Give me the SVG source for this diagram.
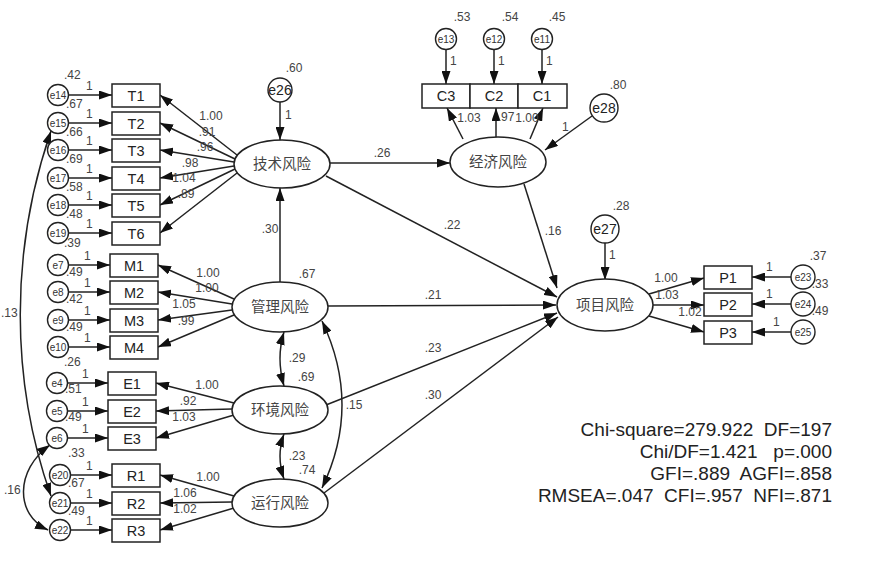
<svg xmlns="http://www.w3.org/2000/svg" width="896" height="564" viewBox="0 0 896 564">
<style>
.bx{fill:#fff;stroke:#222;stroke-width:1.5}
.ci{fill:#fff;stroke:#222;stroke-width:1.4}
.el{fill:#fff;stroke:#222;stroke-width:1.5}
.ln{fill:none;stroke:#222;stroke-width:1.5;marker-end:url(#ah)}
.cv{fill:none;stroke:#222;stroke-width:1.5;marker-end:url(#ah);marker-start:url(#ah)}
.bt{font-family:"Liberation Sans",Arial,sans-serif;font-size:14.5px;fill:#222;text-anchor:middle}
.et{font-family:"Liberation Sans",Arial,sans-serif;font-size:10px;fill:#333;text-anchor:middle}
.eb{font-family:"Liberation Sans",Arial,sans-serif;font-size:14px;fill:#222;text-anchor:middle}
.lt{font-family:"Noto Sans CJK SC","Noto Sans",sans-serif;font-size:14.5px;fill:#444;text-anchor:middle}
.n{font-family:"Liberation Sans",Arial,sans-serif;font-size:12px;fill:#444}
.nm{font-family:"Liberation Sans",Arial,sans-serif;font-size:12px;fill:#444;text-anchor:middle}
.fs{font-family:"Liberation Sans",Arial,sans-serif;font-size:19px;fill:#222;text-anchor:end;white-space:pre}
</style>
<defs>
<marker id="ah" viewBox="0 0 13 9" refX="13" refY="4.5" markerWidth="13" markerHeight="9" markerUnits="userSpaceOnUse" orient="auto-start-reverse"><path d="M0,0 L13,4.5 L0,9 z" fill="#111"/></marker>
</defs>
<rect width="896" height="564" fill="#fff"/>

<g id="connectors">
<path class="ln" d="M68.5,95 H112"/>
<path class="ln" d="M68.5,123 H112"/>
<path class="ln" d="M68.5,150 H112"/>
<path class="ln" d="M68.5,178 H112"/>
<path class="ln" d="M68.5,205 H112"/>
<path class="ln" d="M68.5,233 H112"/>
<path class="ln" d="M68.5,265 H110"/>
<path class="ln" d="M68.5,292 H110"/>
<path class="ln" d="M68.5,320 H110"/>
<path class="ln" d="M68.5,347 H110"/>
<path class="ln" d="M67.5,383 H108"/>
<path class="ln" d="M67.5,411 H108"/>
<path class="ln" d="M67.5,438 H108"/>
<path class="ln" d="M70.5,475 H112"/>
<path class="ln" d="M70.5,503 H112"/>
<path class="ln" d="M70.5,530 H112"/>
<path class="ln" d="M237,155 L160,95"/>
<path class="ln" d="M235,159 L160,123"/>
<path class="ln" d="M234,162 L160,150"/>
<path class="ln" d="M234,166 L160,178"/>
<path class="ln" d="M235,169 L160,205"/>
<path class="ln" d="M237,173 L160,233"/>
<path class="ln" d="M234,299 L158,265"/>
<path class="ln" d="M232,304 L158,292"/>
<path class="ln" d="M232,310 L158,320"/>
<path class="ln" d="M234,315 L158,347"/>
<path class="ln" d="M234,403 L156,383"/>
<path class="ln" d="M232,409 L156,411"/>
<path class="ln" d="M234,415 L156,438"/>
<path class="ln" d="M234,496 L160,475"/>
<path class="ln" d="M232,502 L160,503"/>
<path class="ln" d="M234,508 L160,530"/>
<path class="ln" d="M280,102 V140"/>
<path class="ln" d="M280,282 V188"/>
<path class="ln" d="M330,163 H450"/>
<path class="ln" d="M326,176 L557,297"/>
<path class="ln" d="M328,306 L556,305"/>
<path class="ln" d="M326,405 L557,313"/>
<path class="ln" d="M324,493 L558,317"/>
<path class="ln" d="M524,184 L557,288"/>
<path class="ln" d="M592,116 L545,150"/>
<path class="ln" d="M463,139 L447,108"/>
<path class="ln" d="M496,137 V108"/>
<path class="ln" d="M530,139 L543,108"/>
<path class="ln" d="M446,50 V84"/>
<path class="ln" d="M494,50 V84"/>
<path class="ln" d="M542,50 V84"/>
<path class="ln" d="M605,243 V280"/>
<path class="ln" d="M649,294 L704,278"/>
<path class="ln" d="M653,305 H704"/>
<path class="ln" d="M649,316 L704,332"/>
<path class="ln" d="M791,277 H752"/>
<path class="ln" d="M791,304 H752"/>
<path class="ln" d="M791,332 H752"/>
<path class="cv" d="M51,131 C10,250 10,380 51,496"/>
<path class="cv" d="M50,445 C15,470 15,515 48,530"/>
<path class="cv" d="M284,332 Q276,358 284,386"/>
<path class="cv" d="M284,434 Q276,456 284,479"/>
<path class="cv" d="M322,321 Q362,405 322,488"/>
</g>

<g id="e14"><circle class="ci" cx="58" cy="95" r="10.5"/><text class="et" x="58" y="98.5">e14</text></g>
<g id="e15"><circle class="ci" cx="58" cy="123" r="10.5"/><text class="et" x="58" y="126.5">e15</text></g>
<g id="e16"><circle class="ci" cx="58" cy="150" r="10.5"/><text class="et" x="58" y="153.5">e16</text></g>
<g id="e17"><circle class="ci" cx="58" cy="178" r="10.5"/><text class="et" x="58" y="181.5">e17</text></g>
<g id="e18"><circle class="ci" cx="58" cy="205" r="10.5"/><text class="et" x="58" y="208.5">e18</text></g>
<g id="e19"><circle class="ci" cx="58" cy="233" r="10.5"/><text class="et" x="58" y="236.5">e19</text></g>
<g id="e7"><circle class="ci" cx="58" cy="265" r="10.5"/><text class="et" x="58" y="268.5">e7</text></g>
<g id="e8"><circle class="ci" cx="58" cy="292" r="10.5"/><text class="et" x="58" y="295.5">e8</text></g>
<g id="e9"><circle class="ci" cx="58" cy="320" r="10.5"/><text class="et" x="58" y="323.5">e9</text></g>
<g id="e10"><circle class="ci" cx="58" cy="347" r="10.5"/><text class="et" x="58" y="350.5">e10</text></g>
<g id="e4"><circle class="ci" cx="57" cy="383" r="10.5"/><text class="et" x="57" y="386.5">e4</text></g>
<g id="e5"><circle class="ci" cx="57" cy="411" r="10.5"/><text class="et" x="57" y="414.5">e5</text></g>
<g id="e6"><circle class="ci" cx="57" cy="438" r="10.5"/><text class="et" x="57" y="441.5">e6</text></g>
<g id="e20"><circle class="ci" cx="60" cy="475" r="10.5"/><text class="et" x="60" y="478.5">e20</text></g>
<g id="e21"><circle class="ci" cx="60" cy="503" r="10.5"/><text class="et" x="60" y="506.5">e21</text></g>
<g id="e22"><circle class="ci" cx="60" cy="530" r="10.5"/><text class="et" x="60" y="533.5">e22</text></g>

<g id="T1"><rect class="bx" x="112" y="84" width="48" height="23"/><text class="bt" x="136" y="100.5">T1</text></g>
<g id="T2"><rect class="bx" x="112" y="112" width="48" height="23"/><text class="bt" x="136" y="128.5">T2</text></g>
<g id="T3"><rect class="bx" x="112" y="139" width="48" height="23"/><text class="bt" x="136" y="155.5">T3</text></g>
<g id="T4"><rect class="bx" x="112" y="167" width="48" height="23"/><text class="bt" x="136" y="183.5">T4</text></g>
<g id="T5"><rect class="bx" x="112" y="194" width="48" height="23"/><text class="bt" x="136" y="210.5">T5</text></g>
<g id="T6"><rect class="bx" x="112" y="222" width="48" height="23"/><text class="bt" x="136" y="238.5">T6</text></g>
<g id="M1"><rect class="bx" x="110" y="254" width="48" height="23"/><text class="bt" x="134" y="270.5">M1</text></g>
<g id="M2"><rect class="bx" x="110" y="281" width="48" height="23"/><text class="bt" x="134" y="297.5">M2</text></g>
<g id="M3"><rect class="bx" x="110" y="309" width="48" height="23"/><text class="bt" x="134" y="325.5">M3</text></g>
<g id="M4"><rect class="bx" x="110" y="336" width="48" height="23"/><text class="bt" x="134" y="352.5">M4</text></g>
<g id="E1"><rect class="bx" x="108" y="372" width="48" height="23"/><text class="bt" x="132" y="388.5">E1</text></g>
<g id="E2"><rect class="bx" x="108" y="400" width="48" height="23"/><text class="bt" x="132" y="416.5">E2</text></g>
<g id="E3"><rect class="bx" x="108" y="427" width="48" height="23"/><text class="bt" x="132" y="443.5">E3</text></g>
<g id="R1"><rect class="bx" x="112" y="464" width="48" height="23"/><text class="bt" x="136" y="480.5">R1</text></g>
<g id="R2"><rect class="bx" x="112" y="492" width="48" height="23"/><text class="bt" x="136" y="508.5">R2</text></g>
<g id="R3"><rect class="bx" x="112" y="519" width="48" height="23"/><text class="bt" x="136" y="535.5">R3</text></g>

<g id="tech"><ellipse class="el" cx="282" cy="164" rx="48" ry="24"/><text class="lt" x="282" y="169">技术风险</text></g>
<g id="mgmt"><ellipse class="el" cx="280" cy="307" rx="48" ry="25"/><text class="lt" x="280" y="312">管理风险</text></g>
<g id="env"><ellipse class="el" cx="280" cy="410" rx="48" ry="24"/><text class="lt" x="280" y="415">环境风险</text></g>
<g id="ops"><ellipse class="el" cx="280" cy="503" rx="48" ry="24"/><text class="lt" x="280" y="508">运行风险</text></g>
<g id="econ"><ellipse class="el" cx="498" cy="162" rx="48" ry="25"/><text class="lt" x="498" y="167">经济风险</text></g>
<g id="proj"><ellipse class="el" cx="605" cy="305" rx="48" ry="26"/><text class="lt" x="605" y="310">项目风险</text></g>

<g id="e26"><circle class="ci" cx="280" cy="90" r="12"/><text class="eb" x="280" y="95">e26</text></g>
<g id="e28"><circle class="ci" cx="604" cy="108" r="14"/><text class="eb" x="604" y="113">e28</text></g>
<g id="e27"><circle class="ci" cx="605" cy="229" r="14"/><text class="eb" x="605" y="234">e27</text></g>

<g id="C3"><rect class="bx" x="422" y="84" width="48" height="24"/><text class="bt" x="446" y="101">C3</text></g>
<g id="C2"><rect class="bx" x="470" y="84" width="48" height="24"/><text class="bt" x="494" y="101">C2</text></g>
<g id="C1"><rect class="bx" x="518" y="84" width="49" height="24"/><text class="bt" x="542" y="101">C1</text></g>
<g id="e13"><circle class="ci" cx="446" cy="39" r="10.5"/><text class="et" x="446" y="42.5">e13</text></g>
<g id="e12"><circle class="ci" cx="494" cy="39" r="10.5"/><text class="et" x="494" y="42.5">e12</text></g>
<g id="e11"><circle class="ci" cx="542" cy="39" r="10.5"/><text class="et" x="542" y="42.5">e11</text></g>

<g id="P1"><rect class="bx" x="704" y="266" width="48" height="23"/><text class="bt" x="728" y="282.5">P1</text></g>
<g id="P2"><rect class="bx" x="704" y="293" width="48" height="23"/><text class="bt" x="728" y="309.5">P2</text></g>
<g id="P3"><rect class="bx" x="704" y="321" width="48" height="23"/><text class="bt" x="728" y="337.5">P3</text></g>
<g id="e23"><circle class="ci" cx="803" cy="277" r="12"/><text class="et" x="803" y="280.5">e23</text></g>
<g id="e24"><circle class="ci" cx="803" cy="304" r="12"/><text class="et" x="803" y="307.5">e24</text></g>
<g id="e25"><circle class="ci" cx="803" cy="332" r="12"/><text class="et" x="803" y="335.5">e25</text></g>

<g id="labels">
<text class="n" x="64" y="79">.42</text>
<text class="n" x="66" y="108">.67</text>
<text class="n" x="66" y="136">.66</text>
<text class="n" x="66" y="163">.69</text>
<text class="n" x="66" y="191">.58</text>
<text class="n" x="66" y="218">.48</text>
<text class="n" x="64" y="247">.39</text>
<text class="n" x="66" y="276">.49</text>
<text class="n" x="66" y="303">.42</text>
<text class="n" x="66" y="331">.49</text>
<text class="n" x="64" y="366">.26</text>
<text class="n" x="65" y="393">.51</text>
<text class="n" x="65" y="421">.49</text>
<text class="n" x="68" y="457">.33</text>
<text class="n" x="68" y="487">.67</text>
<text class="n" x="68" y="515">.49</text>
<text class="n" x="1" y="317">.13</text>
<text class="n" x="4" y="494">.16</text>
<text class="n" x="86" y="90">1</text>
<text class="n" x="86" y="118">1</text>
<text class="n" x="86" y="145">1</text>
<text class="n" x="86" y="173">1</text>
<text class="n" x="86" y="200">1</text>
<text class="n" x="86" y="228">1</text>
<text class="n" x="84" y="260">1</text>
<text class="n" x="84" y="287">1</text>
<text class="n" x="84" y="315">1</text>
<text class="n" x="84" y="342">1</text>
<text class="n" x="82" y="378">1</text>
<text class="n" x="82" y="406">1</text>
<text class="n" x="82" y="433">1</text>
<text class="n" x="86" y="470">1</text>
<text class="n" x="86" y="498">1</text>
<text class="n" x="86" y="525">1</text>
<text class="nm" x="211" y="120">1.00</text>
<text class="nm" x="207" y="136">.91</text>
<text class="nm" x="205" y="151">.96</text>
<text class="nm" x="190" y="167">.98</text>
<text class="nm" x="184" y="182">1.04</text>
<text class="nm" x="186" y="198">.89</text>
<text class="nm" x="208" y="277">1.00</text>
<text class="nm" x="207" y="292">1.00</text>
<text class="nm" x="184" y="308">1.05</text>
<text class="nm" x="186" y="325">.99</text>
<text class="nm" x="207" y="389">1.00</text>
<text class="nm" x="188" y="405">.92</text>
<text class="nm" x="184" y="421">1.03</text>
<text class="nm" x="208" y="481">1.00</text>
<text class="nm" x="185" y="497">1.06</text>
<text class="nm" x="185" y="513">1.02</text>
<text class="nm" x="294" y="72">.60</text>
<text class="n" x="285" y="119">1</text>
<text class="nm" x="270" y="233">.30</text>
<text class="nm" x="307" y="278">.67</text>
<text class="nm" x="297" y="362">.29</text>
<text class="nm" x="306" y="381">.69</text>
<text class="nm" x="297" y="460">.23</text>
<text class="nm" x="307" y="474">.74</text>
<text class="nm" x="354" y="409">.15</text>
<text class="nm" x="382" y="157">.26</text>
<text class="nm" x="452" y="229">.22</text>
<text class="nm" x="433" y="299">.21</text>
<text class="nm" x="433" y="352">.23</text>
<text class="nm" x="433" y="399">.30</text>
<text class="nm" x="553" y="235">.16</text>
<text class="nm" x="462" y="21">.53</text>
<text class="nm" x="510" y="21">.54</text>
<text class="nm" x="557" y="21">.45</text>
<text class="n" x="450" y="65">1</text>
<text class="n" x="498" y="65">1</text>
<text class="n" x="546" y="65">1</text>
<text class="nm" x="469" y="122">1.03</text>
<text class="nm" x="506" y="121">.97</text>
<text class="nm" x="527" y="122">1.00</text>
<text class="nm" x="618" y="89">.80</text>
<text class="n" x="562" y="131">1</text>
<text class="nm" x="621" y="210">.28</text>
<text class="n" x="609" y="259">1</text>
<text class="nm" x="666" y="282">1.00</text>
<text class="nm" x="667" y="299">1.03</text>
<text class="nm" x="690" y="316">1.02</text>
<text class="n" x="766" y="271">1</text>
<text class="n" x="766" y="298">1</text>
<text class="n" x="773" y="326">1</text>
<text class="nm" x="818" y="260">.37</text>
<text class="nm" x="820" y="288">.33</text>
<text class="nm" x="820" y="315">.49</text>
</g>

<g id="fit">
<text class="fs" x="832" y="436">Chi-square=279.922  DF=197</text>
<text class="fs" x="832" y="458">Chi/DF=1.421   p=.000</text>
<text class="fs" x="832" y="480">GFI=.889  AGFI=.858</text>
<text class="fs" x="832" y="502">RMSEA=.047  CFI=.957  NFI=.871</text>
</g>
</svg>
